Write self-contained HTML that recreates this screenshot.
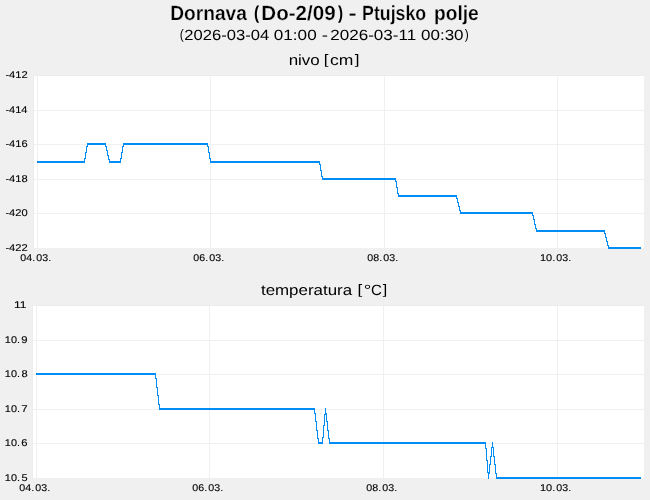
<!DOCTYPE html>
<html>
<head>
<meta charset="utf-8">
<style>
html,body{margin:0;padding:0;background:#f0f0f0;}
body{width:650px;height:500px;overflow:hidden;}
svg{display:block;will-change:transform;}
text{font-family:"Liberation Sans",sans-serif;fill:#000;text-rendering:geometricPrecision;}
.s{stroke:#000;stroke-width:0.12;}
.b{stroke:#f0f0f0;stroke-width:0.25;}
.p{stroke:#000;stroke-width:0.3;}
</style>
</head>
<body>
<svg width="650" height="500" viewBox="0 0 650 500">
<rect x="0" y="0" width="650" height="500" fill="#f0f0f0"/>
<text x="170.22" y="19.8" font-size="20.6" font-weight="bold" class="b" textLength="76.66" lengthAdjust="spacingAndGlyphs">Dornava</text>
<text x="254.02" y="19.0" font-size="18.5" font-weight="bold" textLength="5.19" lengthAdjust="spacingAndGlyphs">(</text>
<text x="261.33" y="19.8" font-size="20.6" font-weight="bold" class="b" textLength="74.24" lengthAdjust="spacingAndGlyphs">Do-2/09</text>
<text x="337.89" y="19.0" font-size="18.5" font-weight="bold" textLength="5.07" lengthAdjust="spacingAndGlyphs">)</text>
<text x="348.55" y="19.8" font-size="20.6" font-weight="bold" class="b" textLength="8.13" lengthAdjust="spacingAndGlyphs">-</text>
<text x="362.11" y="19.8" font-size="20.6" font-weight="bold" class="b" textLength="64.08" lengthAdjust="spacingAndGlyphs">Ptujsko</text>
<text x="434.04" y="19.8" font-size="20.6" font-weight="bold" class="b" textLength="44.72" lengthAdjust="spacingAndGlyphs">polje</text>
<text x="179.85" y="39.0" font-size="13.8" textLength="4.02" lengthAdjust="spacingAndGlyphs">(</text>
<text x="184.37" y="39.7" font-size="14.8" textLength="84.82" lengthAdjust="spacingAndGlyphs">2026-03-04</text>
<text x="273.83" y="39.7" font-size="14.8" textLength="42.84" lengthAdjust="spacingAndGlyphs">01:00</text>
<text x="321.66" y="39.7" font-size="14.8" textLength="6.27" lengthAdjust="spacingAndGlyphs">-</text>
<text x="330.26" y="39.7" font-size="14.8" textLength="85.86" lengthAdjust="spacingAndGlyphs">2026-03-11</text>
<text x="421.04" y="39.7" font-size="14.8" textLength="42.53" lengthAdjust="spacingAndGlyphs">00:30</text>
<text x="464.83" y="39.0" font-size="13.8" textLength="4.02" lengthAdjust="spacingAndGlyphs">)</text>
<text x="288.67" y="64.7" font-size="14.8" textLength="31.14" lengthAdjust="spacingAndGlyphs">nivo</text>
<text x="323.68" y="64.0" font-size="13.8" textLength="4.75" lengthAdjust="spacingAndGlyphs">[</text>
<text x="330.05" y="64.7" font-size="14.8" textLength="23.4" lengthAdjust="spacingAndGlyphs">cm</text>
<text x="354.67" y="64.0" font-size="13.8" textLength="4.75" lengthAdjust="spacingAndGlyphs">]</text>
<text x="260.94" y="294.7" font-size="14.8" textLength="91.16" lengthAdjust="spacingAndGlyphs">temperatura</text>
<text x="357.58" y="294.0" font-size="13.8" textLength="4.75" lengthAdjust="spacingAndGlyphs">[</text>
<text x="363.77" y="294.7" font-size="14.8" textLength="7.56" lengthAdjust="spacingAndGlyphs">°</text>
<text x="370.94" y="294.7" font-size="14.8" textLength="10.83" lengthAdjust="spacingAndGlyphs">C</text>
<text x="382.67" y="294.0" font-size="13.8" textLength="4.47" lengthAdjust="spacingAndGlyphs">]</text>
<rect x="34" y="75" width="610" height="1" fill="#ececec"/>
<rect x="33" y="76" width="1" height="172" fill="#ececec"/>
<rect x="34" y="76" width="610" height="172" fill="#ffffff"/>
<g fill="#f0f0f0" shape-rendering="crispEdges">
<rect x="34" y="110" width="610" height="1"/>
<rect x="34" y="144" width="610" height="1"/>
<rect x="34" y="179" width="610" height="1"/>
<rect x="34" y="213" width="610" height="1"/>
<rect x="37" y="76" width="1" height="172"/>
<rect x="210" y="76" width="1" height="172"/>
<rect x="384" y="76" width="1" height="172"/>
<rect x="557" y="76" width="1" height="172"/>
</g>
<text x="5.4" y="78" font-size="9.8" class="s" textLength="22.36" lengthAdjust="spacingAndGlyphs">-412</text>
<text x="5.41" y="113" font-size="9.8" class="s" textLength="22.11" lengthAdjust="spacingAndGlyphs">-414</text>
<text x="5.41" y="147" font-size="9.8" class="s" textLength="22.28" lengthAdjust="spacingAndGlyphs">-416</text>
<text x="5.41" y="182" font-size="9.8" class="s" textLength="22.28" lengthAdjust="spacingAndGlyphs">-418</text>
<text x="5.41" y="216" font-size="9.8" class="s" textLength="22.23" lengthAdjust="spacingAndGlyphs">-420</text>
<text x="5.4" y="251" font-size="9.8" class="s" textLength="22.36" lengthAdjust="spacingAndGlyphs">-422</text>
<text x="20.38" y="261" font-size="9.8" class="s" textLength="14.79" lengthAdjust="spacingAndGlyphs">04.</text>
<text x="36.38" y="261" font-size="9.8" class="s" textLength="14.79" lengthAdjust="spacingAndGlyphs">03.</text>
<text x="193.38" y="261" font-size="9.8" class="s" textLength="14.79" lengthAdjust="spacingAndGlyphs">06.</text>
<text x="209.38" y="261" font-size="9.8" class="s" textLength="14.79" lengthAdjust="spacingAndGlyphs">03.</text>
<text x="367.38" y="261" font-size="9.8" class="s" textLength="14.79" lengthAdjust="spacingAndGlyphs">08.</text>
<text x="383.38" y="261" font-size="9.8" class="s" textLength="14.79" lengthAdjust="spacingAndGlyphs">03.</text>
<text x="539.97" y="261" font-size="9.8" class="s" textLength="15.24" lengthAdjust="spacingAndGlyphs">10.</text>
<text x="556.38" y="261" font-size="9.8" class="s" textLength="14.79" lengthAdjust="spacingAndGlyphs">03.</text>
<g fill="#008cf5" shape-rendering="crispEdges"><rect x="87" y="143" width="19" height="2"/><rect x="123" y="143" width="85" height="2"/><rect x="87" y="145" width="1" height="1"/><rect x="105" y="145" width="1" height="1"/><rect x="123" y="145" width="1" height="1"/><rect x="207" y="145" width="1" height="1"/><rect x="86" y="146" width="2" height="1"/><rect x="105" y="146" width="2" height="1"/><rect x="122" y="146" width="2" height="1"/><rect x="207" y="146" width="2" height="1"/><rect x="86" y="147" width="1" height="5"/><rect x="106" y="147" width="1" height="3"/><rect x="122" y="147" width="1" height="5"/><rect x="208" y="147" width="1" height="5"/><rect x="106" y="150" width="2" height="1"/><rect x="107" y="151" width="1" height="4"/><rect x="85" y="152" width="2" height="1"/><rect x="121" y="152" width="2" height="1"/><rect x="208" y="152" width="2" height="1"/><rect x="85" y="153" width="1" height="5"/><rect x="121" y="153" width="1" height="5"/><rect x="209" y="153" width="1" height="5"/><rect x="107" y="155" width="2" height="1"/><rect x="108" y="156" width="1" height="3"/><rect x="84" y="158" width="2" height="1"/><rect x="120" y="158" width="2" height="1"/><rect x="209" y="158" width="2" height="1"/><rect x="84" y="159" width="1" height="2"/><rect x="108" y="159" width="2" height="1"/><rect x="120" y="159" width="1" height="2"/><rect x="210" y="159" width="1" height="2"/><rect x="109" y="160" width="1" height="1"/><rect x="37" y="161" width="48" height="2"/><rect x="109" y="161" width="12" height="2"/><rect x="210" y="161" width="110" height="2"/><rect x="319" y="163" width="1" height="1"/><rect x="319" y="164" width="2" height="1"/><rect x="320" y="165" width="1" height="5"/><rect x="320" y="170" width="2" height="1"/><rect x="321" y="171" width="1" height="5"/><rect x="321" y="176" width="2" height="1"/><rect x="322" y="177" width="1" height="1"/><rect x="322" y="178" width="74" height="2"/><rect x="395" y="180" width="1" height="1"/><rect x="395" y="181" width="2" height="1"/><rect x="396" y="182" width="1" height="5"/><rect x="396" y="187" width="2" height="1"/><rect x="397" y="188" width="1" height="5"/><rect x="397" y="193" width="2" height="1"/><rect x="398" y="194" width="1" height="1"/><rect x="398" y="195" width="59" height="2"/><rect x="456" y="197" width="1" height="1"/><rect x="456" y="198" width="2" height="1"/><rect x="457" y="199" width="1" height="3"/><rect x="457" y="202" width="2" height="1"/><rect x="458" y="203" width="1" height="3"/><rect x="458" y="206" width="2" height="1"/><rect x="459" y="207" width="1" height="3"/><rect x="459" y="210" width="2" height="1"/><rect x="460" y="211" width="1" height="1"/><rect x="460" y="212" width="73" height="2"/><rect x="532" y="214" width="1" height="1"/><rect x="532" y="215" width="2" height="1"/><rect x="533" y="216" width="1" height="3"/><rect x="533" y="219" width="2" height="1"/><rect x="534" y="220" width="1" height="4"/><rect x="534" y="224" width="2" height="1"/><rect x="535" y="225" width="1" height="3"/><rect x="535" y="228" width="2" height="1"/><rect x="536" y="229" width="1" height="1"/><rect x="536" y="230" width="69" height="2"/><rect x="604" y="232" width="1" height="1"/><rect x="604" y="233" width="2" height="1"/><rect x="605" y="234" width="1" height="3"/><rect x="605" y="237" width="2" height="1"/><rect x="606" y="238" width="1" height="3"/><rect x="606" y="241" width="2" height="1"/><rect x="607" y="242" width="1" height="3"/><rect x="607" y="245" width="2" height="1"/><rect x="608" y="246" width="1" height="1"/><rect x="608" y="247" width="33" height="2"/></g>
<rect x="33" y="305" width="611" height="1" fill="#ececec"/>
<rect x="32" y="306" width="1" height="172" fill="#ececec"/>
<rect x="33" y="306" width="611" height="172" fill="#ffffff"/>
<g fill="#f0f0f0" shape-rendering="crispEdges">
<rect x="33" y="340" width="611" height="1"/>
<rect x="33" y="374" width="611" height="1"/>
<rect x="33" y="409" width="611" height="1"/>
<rect x="33" y="443" width="611" height="1"/>
<rect x="36" y="306" width="1" height="172"/>
<rect x="209" y="306" width="1" height="172"/>
<rect x="383" y="306" width="1" height="172"/>
<rect x="557" y="306" width="1" height="172"/>
</g>
<text x="13.94" y="308" font-size="9.8" class="s" textLength="12.51" lengthAdjust="spacingAndGlyphs">11</text>
<text x="4.87" y="343" font-size="9.8" class="s" textLength="15.12" lengthAdjust="spacingAndGlyphs">10.</text>
<text x="21.37" y="343" font-size="9.8" class="s" textLength="6.26" lengthAdjust="spacingAndGlyphs">9</text>
<text x="4.87" y="377" font-size="9.8" class="s" textLength="15.12" lengthAdjust="spacingAndGlyphs">10.</text>
<text x="21.42" y="377" font-size="9.8" class="s" textLength="6.16" lengthAdjust="spacingAndGlyphs">8</text>
<text x="4.87" y="412" font-size="9.8" class="s" textLength="15.12" lengthAdjust="spacingAndGlyphs">10.</text>
<text x="21.31" y="412" font-size="9.8" class="s" textLength="6.36" lengthAdjust="spacingAndGlyphs">7</text>
<text x="4.87" y="446" font-size="9.8" class="s" textLength="15.12" lengthAdjust="spacingAndGlyphs">10.</text>
<text x="21.33" y="446" font-size="9.8" class="s" textLength="6.27" lengthAdjust="spacingAndGlyphs">6</text>
<text x="4.87" y="481" font-size="9.8" class="s" textLength="15.12" lengthAdjust="spacingAndGlyphs">10.</text>
<text x="21.46" y="481" font-size="9.8" class="s" textLength="6.1" lengthAdjust="spacingAndGlyphs">5</text>
<text x="19.38" y="491" font-size="9.8" class="s" textLength="14.79" lengthAdjust="spacingAndGlyphs">04.</text>
<text x="35.38" y="491" font-size="9.8" class="s" textLength="14.79" lengthAdjust="spacingAndGlyphs">03.</text>
<text x="192.38" y="491" font-size="9.8" class="s" textLength="14.79" lengthAdjust="spacingAndGlyphs">06.</text>
<text x="208.38" y="491" font-size="9.8" class="s" textLength="14.79" lengthAdjust="spacingAndGlyphs">03.</text>
<text x="366.38" y="491" font-size="9.8" class="s" textLength="14.79" lengthAdjust="spacingAndGlyphs">08.</text>
<text x="382.38" y="491" font-size="9.8" class="s" textLength="14.79" lengthAdjust="spacingAndGlyphs">03.</text>
<text x="539.97" y="491" font-size="9.8" class="s" textLength="15.24" lengthAdjust="spacingAndGlyphs">10.</text>
<text x="556.38" y="491" font-size="9.8" class="s" textLength="14.79" lengthAdjust="spacingAndGlyphs">03.</text>
<g fill="#008cf5" shape-rendering="crispEdges"><rect x="36" y="373" width="120" height="2"/><rect x="155" y="375" width="1" height="3"/><rect x="155" y="378" width="2" height="1"/><rect x="156" y="379" width="1" height="8"/><rect x="156" y="387" width="2" height="1"/><rect x="157" y="388" width="1" height="7"/><rect x="157" y="395" width="2" height="1"/><rect x="158" y="396" width="1" height="8"/><rect x="158" y="404" width="2" height="1"/><rect x="159" y="405" width="1" height="3"/><rect x="159" y="408" width="156" height="2"/><rect x="325" y="408" width="1" height="5"/><rect x="314" y="410" width="1" height="3"/><rect x="314" y="413" width="2" height="1"/><rect x="325" y="413" width="2" height="1"/><rect x="315" y="414" width="1" height="7"/><rect x="324" y="414" width="3" height="1"/><rect x="324" y="415" width="1" height="10"/><rect x="326" y="415" width="1" height="6"/><rect x="315" y="421" width="2" height="1"/><rect x="326" y="421" width="2" height="1"/><rect x="316" y="422" width="1" height="8"/><rect x="327" y="422" width="1" height="8"/><rect x="323" y="425" width="2" height="1"/><rect x="323" y="426" width="1" height="11"/><rect x="316" y="430" width="2" height="1"/><rect x="327" y="430" width="2" height="1"/><rect x="317" y="431" width="1" height="7"/><rect x="328" y="431" width="1" height="7"/><rect x="322" y="437" width="2" height="1"/><rect x="317" y="438" width="2" height="1"/><rect x="322" y="438" width="1" height="4"/><rect x="328" y="438" width="2" height="1"/><rect x="318" y="439" width="1" height="3"/><rect x="329" y="439" width="1" height="3"/><rect x="318" y="442" width="5" height="2"/><rect x="329" y="442" width="157" height="2"/><rect x="492" y="442" width="1" height="5"/><rect x="485" y="444" width="1" height="4"/><rect x="491" y="447" width="3" height="1"/><rect x="485" y="448" width="2" height="1"/><rect x="491" y="448" width="1" height="8"/><rect x="493" y="448" width="1" height="8"/><rect x="486" y="449" width="1" height="11"/><rect x="490" y="456" width="2" height="1"/><rect x="493" y="456" width="2" height="1"/><rect x="490" y="457" width="1" height="7"/><rect x="494" y="457" width="1" height="7"/><rect x="486" y="460" width="2" height="1"/><rect x="487" y="461" width="1" height="11"/><rect x="489" y="464" width="2" height="1"/><rect x="494" y="464" width="2" height="1"/><rect x="489" y="465" width="1" height="7"/><rect x="495" y="465" width="1" height="8"/><rect x="487" y="472" width="3" height="1"/><rect x="488" y="473" width="2" height="1"/><rect x="495" y="473" width="2" height="1"/><rect x="488" y="474" width="1" height="5"/><rect x="496" y="474" width="1" height="3"/><rect x="496" y="477" width="145" height="2"/></g>
</svg>
</body>
</html>
